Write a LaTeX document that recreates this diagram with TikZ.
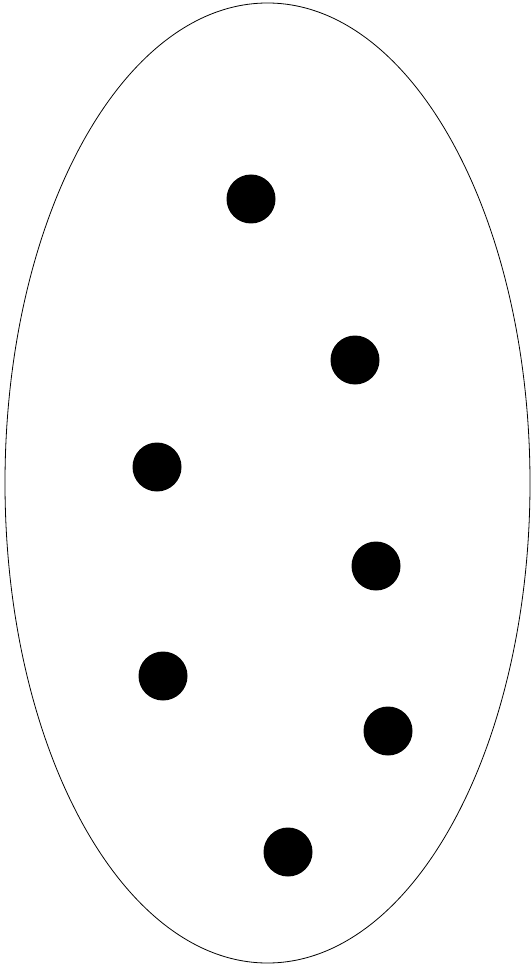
\documentclass[tikz,border=0pt]{standalone}
\usetikzlibrary{shapes.geometric}
\begin{document}
\begin{tikzpicture}[x=1pt,y=-1pt,
  dot/.style={circle,fill=black,inner sep=0pt,minimum size=49pt}]
\useasboundingbox (0,0) rectangle (530,965);
\node[draw,ellipse,line width=0.8pt,minimum width=525pt,minimum height=960pt,inner sep=0pt] (set) at (267.5,483) {};
\node[dot] (p1) at (251,199) {};
\node[dot] (p2) at (355,360) {};
\node[dot] (p3) at (157,467) {};
\node[dot] (p4) at (376,566) {};
\node[dot] (p5) at (163,676) {};
\node[dot] (p6) at (388,731) {};
\node[dot] (p7) at (288,852) {};
\end{tikzpicture}
\end{document}
